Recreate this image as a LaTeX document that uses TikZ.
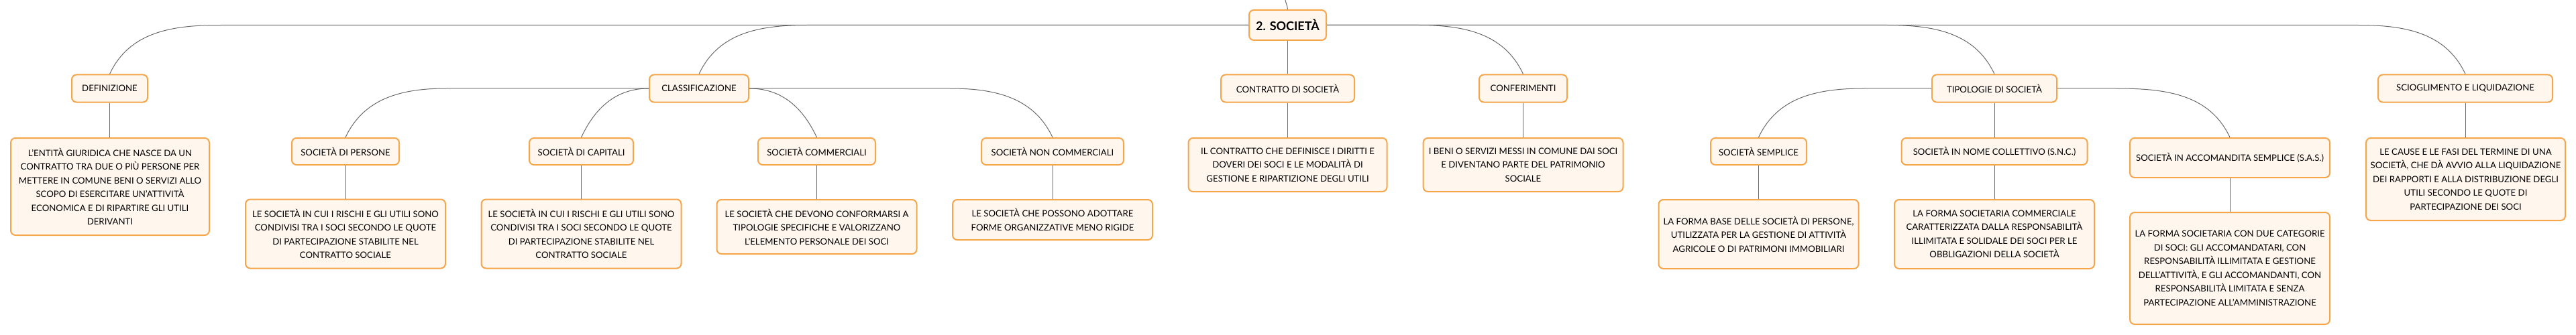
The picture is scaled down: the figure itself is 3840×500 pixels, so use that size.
\documentclass[tikz,border=0pt]{standalone}
\usepackage{fontspec}
\setmainfont{Lato}
\usepackage{tikz}
\usetikzlibrary{calc}

\definecolor{boxline}{HTML}{F5A54A}
\definecolor{boxfill}{HTML}{FFF6EE}
\definecolor{linkgray}{HTML}{6A6A6A}

\begin{document}
\begin{tikzpicture}[x=1pt, y=1pt,
    box/.style={draw=boxline, fill=boxfill, line width=2pt, rounded corners=7pt,
      align=center, inner sep=0pt, font=\fontsize{13.2}{20.5}\selectfont},
    link/.style={draw=linkgray, line width=1pt}]
    \useasboundingbox (0,0) rectangle (3840,-500);

    % Root
    \node[box, minimum width=115, minimum height=45, font=\fontsize{18}{20}\selectfont\bfseries] (root) at (1919.5,-37.5) {2. SOCIETÀ};
    \coordinate (up) at (1916,0);

    % Main branches
    \node[box, minimum width=113, minimum height=41] (def) at (163.5,-132) {DEFINIZIONE};
    \node[box, minimum width=148, minimum height=41] (cls) at (1042,-132) {CLASSIFICAZIONE};
    \node[box, minimum width=199, minimum height=41] (contr) at (1919.5,-132) {CONTRATTO DI SOCIETÀ};
    \node[box, minimum width=131, minimum height=41] (conf) at (2270.5,-132) {CONFERIMENTI};
    \node[box, minimum width=186, minimum height=41] (tip) at (2973,-132) {TIPOLOGIE DI SOCIETÀ};
    \node[box, minimum width=260, minimum height=41] (scio) at (3675,-132) {SCIOGLIMENTO E LIQUIDAZIONE};

    % Definizione
    \node[box, minimum width=296, minimum height=145] (defdesc) at (164,-278.5) {L’ENTITÀ GIURIDICA CHE NASCE DA UN\\CONTRATTO TRA DUE O PIÙ PERSONE PER\\METTERE IN COMUNE BENI O SERVIZI ALLO\\SCOPO DI ESERCITARE UN’ATTIVITÀ\\ECONOMICA E DI RIPARTIRE GLI UTILI\\DERIVANTI};

    % Classificazione
    \node[box, minimum width=160, minimum height=40] (sdp) at (515,-226) {SOCIETÀ DI PERSONE};
    \node[box, minimum width=155, minimum height=40] (sdc) at (866.5,-226) {SOCIETÀ DI CAPITALI};
    \node[box, minimum width=175, minimum height=40] (scom) at (1217.5,-226) {SOCIETÀ COMMERCIALI};
    \node[box, minimum width=212, minimum height=40] (sncom) at (1569,-226) {SOCIETÀ NON COMMERCIALI};
    \node[box, minimum width=298, minimum height=103] (sdpdesc) at (515,-349) {LE SOCIETÀ IN CUI I RISCHI E GLI UTILI SONO\\CONDIVISI TRA I SOCI SECONDO LE QUOTE\\DI PARTECIPAZIONE STABILITE NEL\\CONTRATTO SOCIALE};
    \node[box, minimum width=298, minimum height=103] (sdcdesc) at (866.5,-349) {LE SOCIETÀ IN CUI I RISCHI E GLI UTILI SONO\\CONDIVISI TRA I SOCI SECONDO LE QUOTE\\DI PARTECIPAZIONE STABILITE NEL\\CONTRATTO SOCIALE};
    \node[box, minimum width=298, minimum height=81] (scomdesc) at (1217.5,-338.5) {LE SOCIETÀ CHE DEVONO CONFORMARSI A\\TIPOLOGIE SPECIFICHE E VALORIZZANO\\L’ELEMENTO PERSONALE DEI SOCI};
    \node[box, minimum width=298, minimum height=60] (sncomdesc) at (1569,-328) {LE SOCIETÀ CHE POSSONO ADOTTARE\\FORME ORGANIZZATIVE MENO RIGIDE};

    % Contratto e conferimenti
    \node[box, minimum width=296, minimum height=80] (contrdesc) at (1919.5,-246) {IL CONTRATTO CHE DEFINISCE I DIRITTI E\\DOVERI DEI SOCI E LE MODALITÀ DI\\GESTIONE E RIPARTIZIONE DEGLI UTILI};
    \node[box, minimum width=298, minimum height=80] (confdesc) at (2270.5,-246) {I BENI O SERVIZI MESSI IN COMUNE DAI SOCI\\E DIVENTANO PARTE DEL PATRIMONIO\\SOCIALE};

    % Tipologie
    \node[box, minimum width=143, minimum height=40] (ss) at (2621.5,-226) {SOCIETÀ SEMPLICE};
    \node[box, minimum width=277, minimum height=40] (snc) at (2973,-226) {SOCIETÀ IN NOME COLLETTIVO (S.N.C.)};
    \node[box, minimum width=298, minimum height=59] (sas) at (3324,-235.5) {SOCIETÀ IN ACCOMANDITA SEMPLICE (S.A.S.)};
    \node[box, minimum width=298, minimum height=103] (ssdesc) at (2621.5,-349.5) {LA FORMA BASE DELLE SOCIETÀ DI PERSONE,\\UTILIZZATA PER LA GESTIONE DI ATTIVITÀ\\AGRICOLE O DI PATRIMONI IMMOBILIARI};
    \node[box, minimum width=298, minimum height=103] (sncdesc) at (2973,-349.5) {LA FORMA SOCIETARIA COMMERCIALE\\CARATTERIZZATA DALLA RESPONSABILITÀ\\ILLIMITATA E SOLIDALE DEI SOCI PER LE\\OBBLIGAZIONI DELLA SOCIETÀ};
    \node[box, minimum width=298, minimum height=167] (sasdesc) at (3324,-400.5) {LA FORMA SOCIETARIA CON DUE CATEGORIE\\DI SOCI: GLI ACCOMANDATARI, CON\\RESPONSABILITÀ ILLIMITATA E GESTIONE\\DELL’ATTIVITÀ, E GLI ACCOMANDANTI, CON\\RESPONSABILITÀ LIMITATA E SENZA\\PARTECIPAZIONE ALL’AMMINISTRAZIONE};

    % Scioglimento
    \node[box, minimum width=297, minimum height=123] (sciodesc) at (3675.5,-267.5) {LE CAUSE E LE FASI DEL TERMINE DI UNA\\SOCIETÀ, CHE DÀ AVVIO ALLA LIQUIDAZIONE\\DEI RAPPORTI E ALLA DISTRIBUZIONE DEGLI\\UTILI SECONDO LE QUOTE DI\\PARTECIPAZIONE DEI SOCI};

    % Links from the root
    \draw[link] (root.north) to[out=95,in=-80] (up);
    \draw[link] (root.west) -- ($(def.north |- root.west)+(166,0)$) to[out=180,in=65] (def.north);
    \draw[link] (root.west) -- ($(cls.north |- root.west)+(161,0)$) to[out=180,in=65] (cls.north);
    \draw[link] (root.south) -- (contr.north);
    \draw[link] (root.east) -- ($(conf.north |- root.east)+(-156,0)$) to[out=0,in=115] (conf.north);
    \draw[link] (root.east) -- ($(tip.north |- root.east)+(-160,0)$) to[out=0,in=115] (tip.north);
    \draw[link] (root.east) -- ($(scio.north |- root.east)+(-160,0)$) to[out=0,in=115] (scio.north);

    % Links of the branches
    \draw[link] (cls.west) -- ($(sdp.north |- cls.west)+(150,0)$) to[out=180,in=65] (sdp.north);
    \draw[link] (cls.west) to[out=180,in=65] (sdc.north);
    \draw[link] (cls.east) to[out=0,in=115] (scom.north);
    \draw[link] (cls.east) -- ($(sncom.north |- cls.east)+(-153,0)$) to[out=0,in=115] (sncom.north);
    \draw[link] (tip.west) -- ($(ss.north |- tip.west)+(158,0)$) to[out=180,in=65] (ss.north);
    \draw[link] (tip.south) -- (snc.north);
    \draw[link] (tip.east) -- ($(sas.north |- tip.east)+(-170,0)$) to[out=0,in=115] (sas.north);

    % Links to the descriptions
    \draw[link] (def.south) -- (def.south |- defdesc.north);
    \draw[link] (sdp.south) -- (sdp.south |- sdpdesc.north);
    \draw[link] (sdc.south) -- (sdc.south |- sdcdesc.north);
    \draw[link] (scom.south) -- (scom.south |- scomdesc.north);
    \draw[link] (sncom.south) -- (sncom.south |- sncomdesc.north);
    \draw[link] (contr.south) -- (contr.south |- contrdesc.north);
    \draw[link] (conf.south) -- (conf.south |- confdesc.north);
    \draw[link] (ss.south) -- (ss.south |- ssdesc.north);
    \draw[link] (snc.south) -- (snc.south |- sncdesc.north);
    \draw[link] (sas.south) -- (sas.south |- sasdesc.north);
    \draw[link] (scio.south) -- (scio.south |- sciodesc.north);
\end{tikzpicture}
\end{document}
